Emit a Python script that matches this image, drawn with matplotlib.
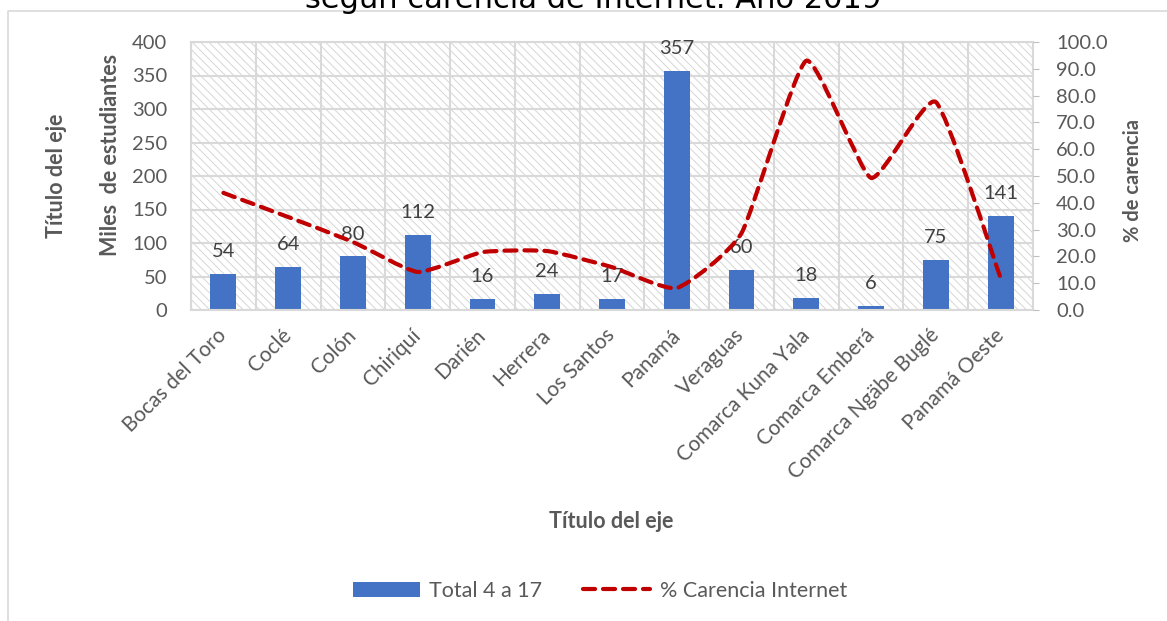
#!/usr/bin/env python3
"""Estudiantes de 4 a 17 años y % de carencia de Internet por provincia, 2019."""

import matplotlib

matplotlib.use("Agg")
import matplotlib.pyplot as plt
import numpy as np
from matplotlib.lines import Line2D
from matplotlib.patches import PathPatch, Patch, Rectangle
from matplotlib.path import Path

plt.rcParams["font.family"] = ["Lato", "DejaVu Sans"]
plt.rcParams["hatch.linewidth"] = 0.7

PROVINCES = [
    "Bocas del Toro", "Coclé", "Colón", "Chiriquí", "Darién", "Herrera",
    "Los Santos", "Panamá", "Veraguas", "Comarca Kuna Yala",
    "Comarca Emberá", "Comarca Ngäbe Buglé", "Panamá Oeste",
]
STUDENTS_K = [54, 64, 80, 112, 16, 24, 17, 357, 60, 18, 6, 75, 141]
PCT_NO_INTERNET = [43.7, 34.7, 25.4, 14.2, 21.6, 22.0, 16.0, 8.2, 28.7, 93.0, 49.3, 77.6, 11.9]
LEFT_TICKS = list(range(0, 401, 50))
RIGHT_TICKS = list(range(0, 101, 10))

TITLE = "según carencia de Internet. Año 2019"
BAR_LABEL = "Total 4 a 17"
LINE_LABEL = "% Carencia Internet"

BLUE = "#4472C4"
RED = "#C00000"
GRID = "#d9d9d9"
TEXT = "#595959"
DASH = (0, (2.9, 1.9))
W, H = 1167, 621


def smooth_path(xs, ys, sx, sy, k=1 / 12):
    # Excel style "smoothed line": cubic Bezier through every point
    pts = np.column_stack([np.asarray(xs, float) * sx, np.asarray(ys, float) * sy])
    n = len(pts)
    verts = [pts[0]]
    codes = [Path.MOVETO]
    for i in range(n - 1):
        p0 = pts[max(i - 1, 0)]
        p1 = pts[i]
        p2 = pts[i + 1]
        p3 = pts[min(i + 2, n - 1)]
        verts += [p1 + (p2 - p0) * k, p2 - (p3 - p1) * k, p2]
        codes += [Path.CURVE4] * 3
    verts = np.array(verts) / [sx, sy]
    return Path(verts, codes)


def main():
    fig = plt.figure(figsize=(W / 100, H / 100), dpi=100)
    px = lambda x: x / W
    py = lambda y: 1 - y / H

    # chart area border (top + left visible)
    fig.add_artist(Line2D([px(8), px(8), 1.0], [0.0, py(11), py(11)],
                          color=GRID, lw=1.2, transform=fig.transFigure))
    fig.text(px(593), py(8), TITLE, ha="center", va="baseline",
             fontsize=22, family=["DejaVu Sans"], color="black")

    ax = fig.add_axes([px(191), py(310), px(1033) - px(191), py(42) - py(310)])
    x = np.arange(len(PROVINCES))

    ax.add_patch(Rectangle((0, 0), 1, 1, transform=ax.transAxes, facecolor="white",
                           edgecolor="#d6d6d6", hatch="\\\\\\\\", lw=0, zorder=0.1))
    ax.bar(x, STUDENTS_K, width=0.4, color=BLUE, zorder=2)
    for xi, v in zip(x, STUDENTS_K):
        ax.annotate(f"{v}", (xi, v), xytext=(0, 10), textcoords="offset points",
                    ha="center", va="bottom", fontsize=14.5, color="#404040", zorder=3)

    ax.set_xlim(-0.5, len(PROVINCES) - 0.5)
    ax.set_ylim(0, 400)
    ax.set_yticks(LEFT_TICKS)
    ax.set_xticks(x)
    ax.set_xticklabels(PROVINCES, rotation=45, ha="right", va="center",
                       rotation_mode="anchor")
    ax.set_xticks(np.arange(-0.5, len(PROVINCES)), minor=True)
    ax.tick_params(axis="x", which="both", length=0, pad=16, labelsize=15, labelcolor=TEXT)
    ax.tick_params(axis="y", length=0, pad=17, labelsize=14.5, labelcolor=TEXT)
    ax.set_axisbelow(True)
    ax.grid(axis="y", which="major", color=GRID, lw=1.5)
    ax.grid(axis="x", which="minor", color=GRID, lw=1.5)
    for s in ax.spines.values():
        s.set_color(GRID)
        s.set_linewidth(1.5)

    ax2 = ax.twinx()
    ax2.set_ylim(0, 100)
    ax2.set_yticks(RIGHT_TICKS)
    ax2.set_yticklabels([f"{t:.1f}" for t in RIGHT_TICKS])
    ax2.tick_params(axis="y", length=4, color="#bfbfbf", pad=12.5, labelsize=14.5,
                    labelcolor=TEXT)
    for s in ax2.spines.values():
        s.set_visible(False)
    ax2.add_patch(PathPatch(smooth_path(x, PCT_NO_INTERNET, 64.8, 2.68),
                            facecolor="none", edgecolor=RED, lw=3,
                            linestyle=DASH, capstyle="round", zorder=4))

    fig.text(px(57), py(176), "Título del eje", rotation=90, ha="center", va="center",
             fontsize=15.5, fontweight="bold", color=TEXT)
    fig.text(px(110), py(155), "Miles  de estudiantes", rotation=90, ha="center",
             va="center", fontsize=15.5, fontweight="bold", color=TEXT)
    fig.text(px(1133), py(181), "% de carencia", rotation=90, ha="center", va="center",
             fontsize=14.5, fontweight="bold", color=TEXT)
    fig.text(px(611), py(521), "Título del eje", ha="center", va="center",
             fontsize=15.5, fontweight="bold", color=TEXT)

    handles = [
        Patch(facecolor=BLUE, edgecolor="none"),
        Line2D([], [], color=RED, lw=3, linestyle=DASH, dash_capstyle="round"),
    ]
    fig.legend(handles, [BAR_LABEL, LINE_LABEL], loc="center",
               bbox_to_anchor=(px(600), py(591)), ncol=2, frameon=False,
               fontsize=15.5, labelcolor=TEXT, handlelength=3.1,
               handletextpad=0.45, columnspacing=1.9)

    fig.savefig("out.png", dpi=100)
    plt.close(fig)


if __name__ == "__main__":
    main()
